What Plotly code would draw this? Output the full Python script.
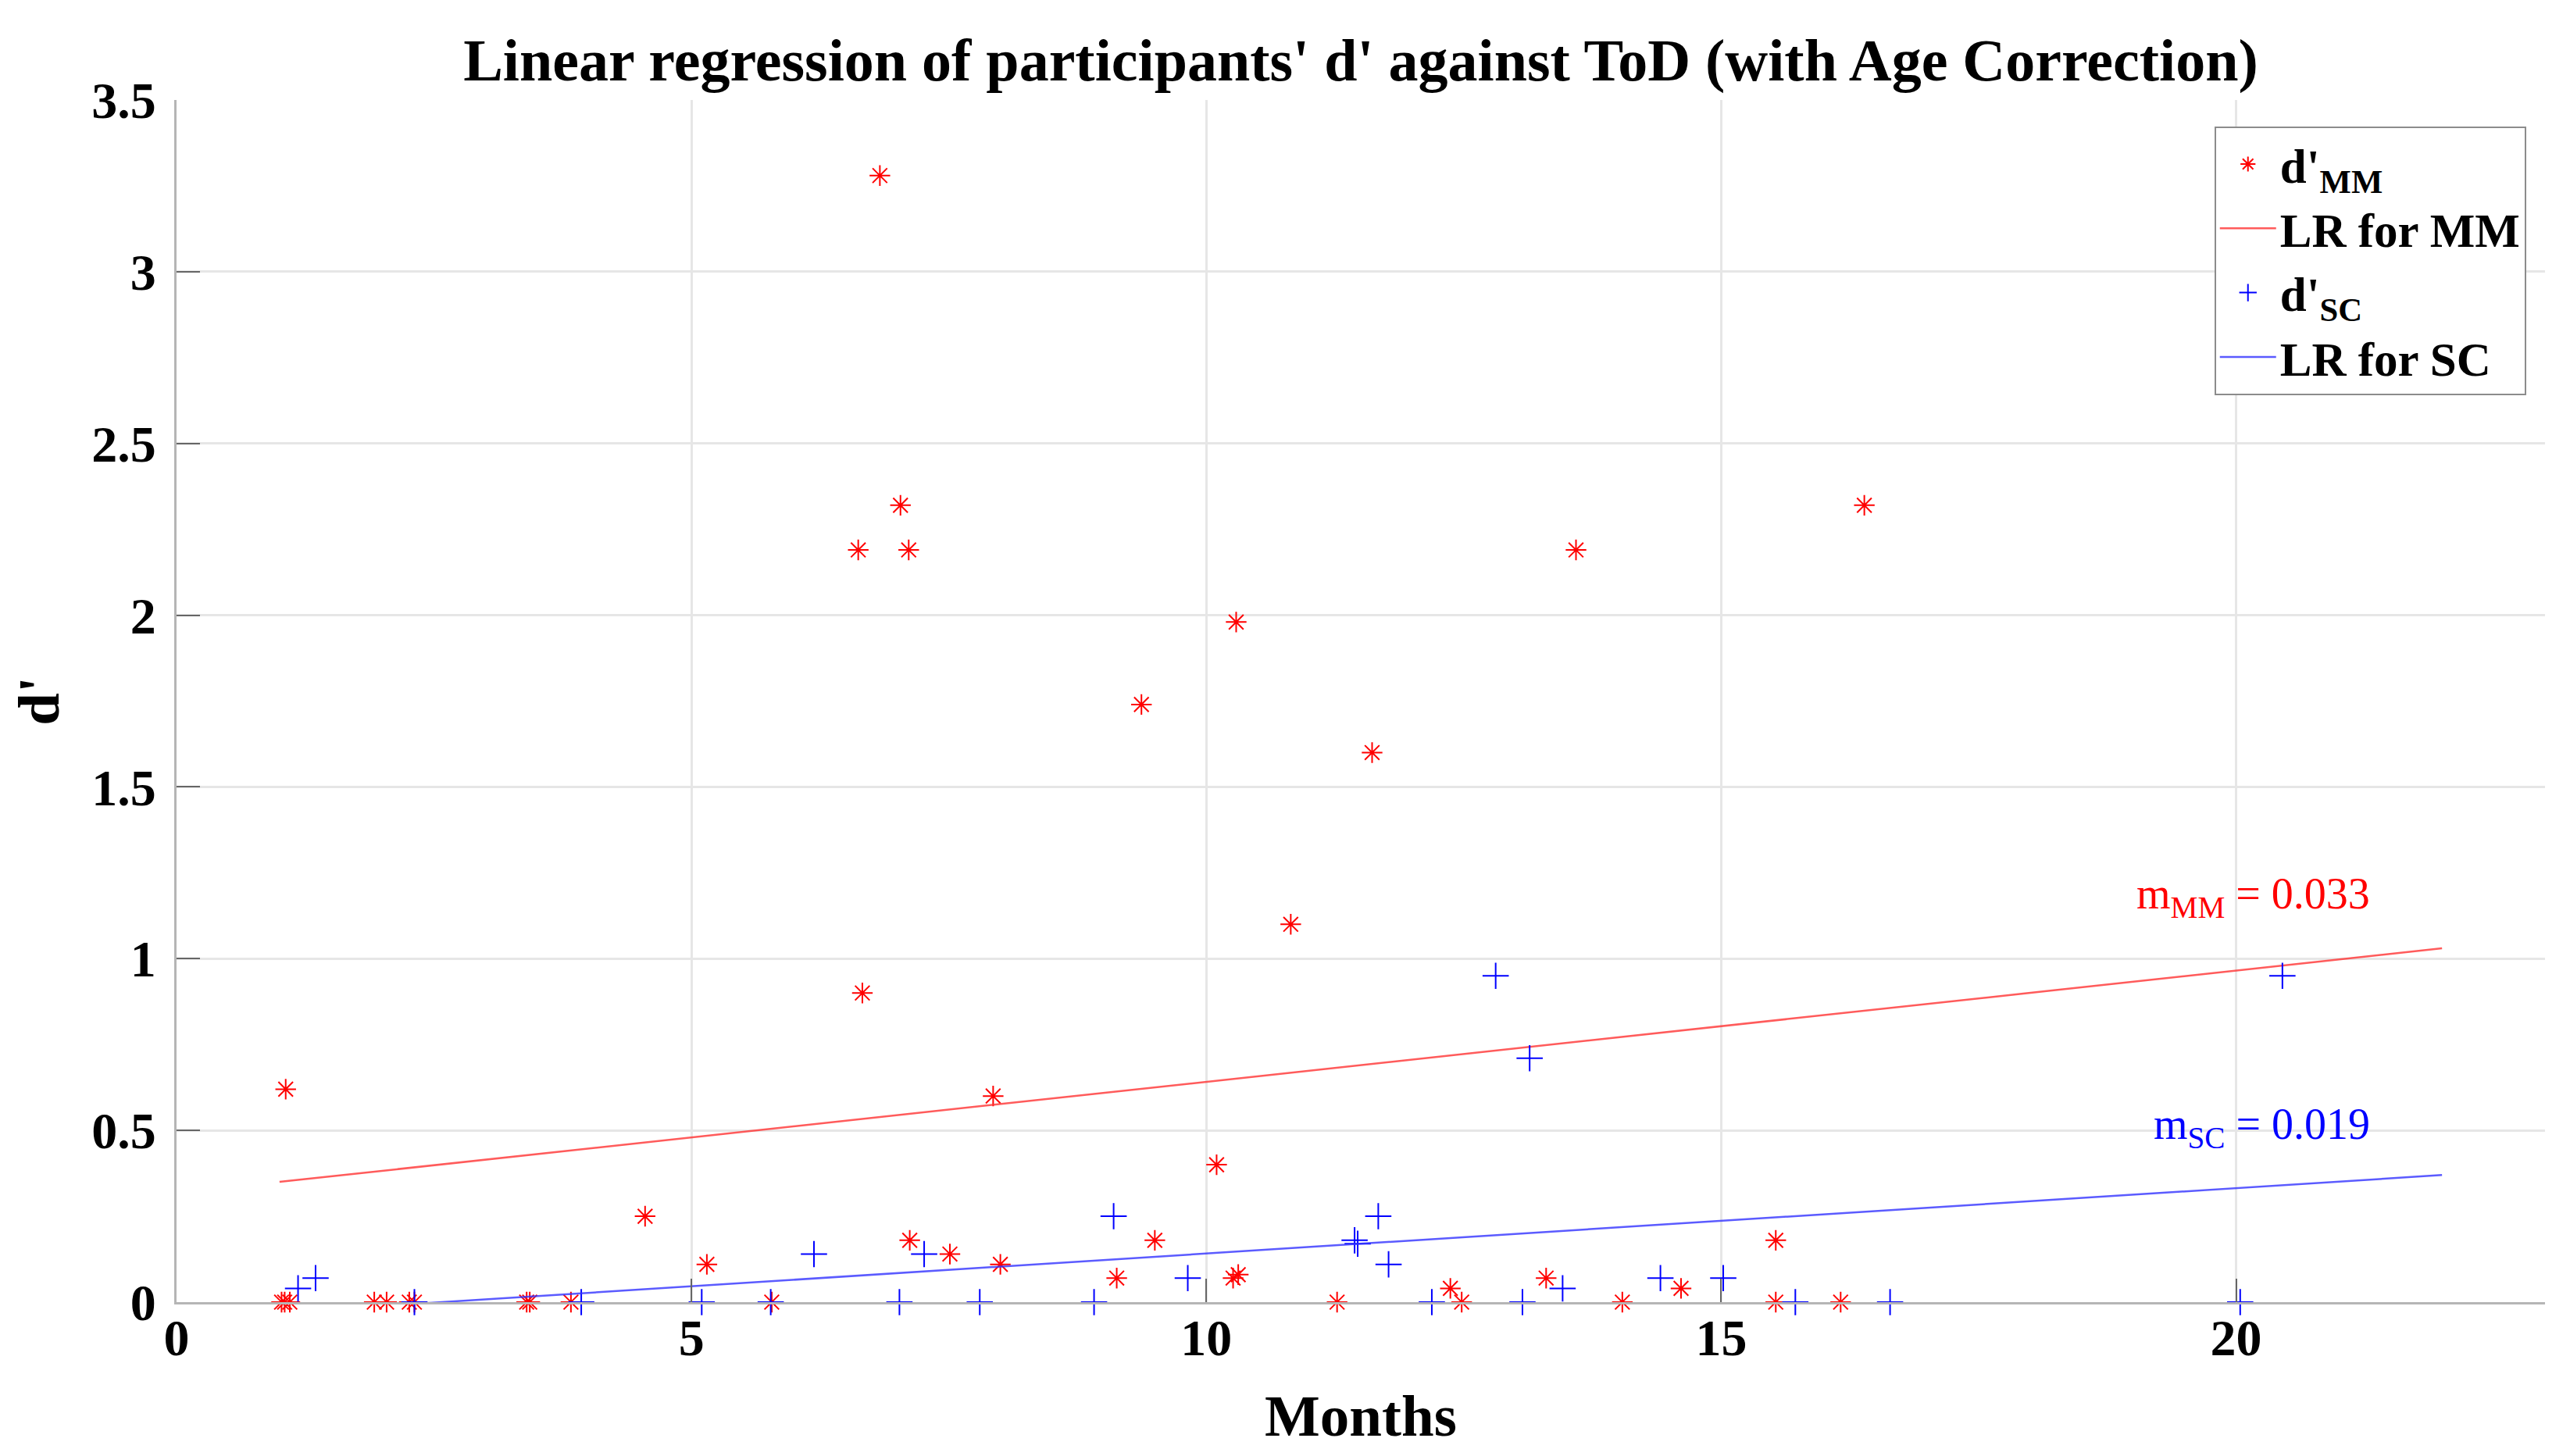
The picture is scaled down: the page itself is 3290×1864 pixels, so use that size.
import plotly.graph_objects as go

# ---- data ----
months_mm = [1.02, 1.05, 1.10, 1.06, 1.92, 2.04, 2.26, 2.31, 3.40, 3.43, 3.83,
             4.55, 5.15, 5.78, 6.62, 6.66, 6.83, 7.03, 7.11, 7.12, 7.51, 7.93,
             8.00, 9.13, 9.37, 9.50, 10.10, 10.26, 10.31, 10.29, 10.82, 11.27,
             11.61, 12.37, 12.48, 13.30, 13.59, 14.04, 14.61, 15.53, 15.53,
             16.16, 16.39]
dprime_mm = [0.0, 0.0, 0.0, 0.62, 0.0, 0.0, 0.0, 0.0, 0.0, 0.0, 0.0,
             0.25, 0.11, 0.0, 2.19, 0.90, 3.28, 2.32, 2.19, 0.18, 0.14, 0.60,
             0.11, 0.07, 1.74, 0.18, 0.40, 0.07, 0.08, 1.98, 1.10, 0.0,
             1.60, 0.04, 0.0, 0.07, 2.19, 0.0, 0.04, 0.18, 0.0,
             0.0, 2.32]

months_sc = [1.18, 1.35, 2.31, 3.93, 5.10, 5.77, 6.19, 7.02, 7.26, 7.80, 8.91,
             9.10, 9.82, 11.44, 11.47, 11.67, 11.77, 12.19, 12.81, 13.07, 13.14,
             13.46, 14.41, 15.02, 15.72, 16.64, 20.04, 20.45]
dprime_sc = [0.04, 0.07, 0.0, 0.0, 0.0, 0.0, 0.14, 0.0, 0.14, 0.0, 0.0,
             0.25, 0.07, 0.18, 0.17, 0.25, 0.11, 0.0, 0.95, 0.0, 0.71,
             0.04, 0.07, 0.07, 0.0, 0.0, 0.0, 0.95]

lr_x = [1.0, 22.0]
lr_mm = [0.35, 1.03]
lr_sc = [-0.03, 0.37]

slope_mm_text = "m<sub>MM</sub> = 0.033"
slope_sc_text = "m<sub>SC</sub> = 0.019"

x_ticks = [0, 5, 10, 15, 20]
y_ticks = [0, 0.5, 1, 1.5, 2, 2.5, 3, 3.5]
y_ticklabels = ["0", "0.5", "1", "1.5", "2", "2.5", "3", "3.5"]

title_text = "Linear regression of participants' d' against ToD (with Age Correction)"
x_title = "Months"
y_title = "d'"

FONT = "Liberation Serif"
RED = "rgb(255,0,0)"
BLUE = "rgb(0,0,255)"

fig = go.Figure()
fig.add_trace(go.Scatter(
    x=months_mm, y=dprime_mm, mode="markers", name="d'<sub>MM</sub>",
    marker=dict(symbol="asterisk-open", size=22, color=RED,
                line=dict(color=RED, width=2)),
    cliponaxis=False))
fig.add_trace(go.Scatter(
    x=lr_x, y=lr_mm, mode="lines", name="LR for MM",
    line=dict(color="rgba(255,50,50,0.8)", width=2.5)))
fig.add_trace(go.Scatter(
    x=months_sc, y=dprime_sc, mode="markers", name="d'<sub>SC</sub>",
    marker=dict(symbol="cross-thin-open", size=24, color=BLUE,
                line=dict(color=BLUE, width=2)),
    cliponaxis=False))
fig.add_trace(go.Scatter(
    x=lr_x, y=lr_sc, mode="lines", name="LR for SC",
    line=dict(color="rgba(50,50,255,0.8)", width=2.5)))

fig.add_annotation(x=20.17, y=1.18, xref="x", yref="y", text=slope_mm_text,
                   showarrow=False, font=dict(family=FONT, size=56, color=RED))
fig.add_annotation(x=20.25, y=0.51, xref="x", yref="y", text=slope_sc_text,
                   showarrow=False, font=dict(family=FONT, size=56, color=BLUE))

fig.update_layout(
    width=3290, height=1864,
    margin=dict(l=218, r=40, t=120, b=205),
    paper_bgcolor="white", plot_bgcolor="white",
    font=dict(family=FONT, size=60, color="black"),
    title=dict(text=title_text, x=0.5, xref="paper", y=1 - 68 / 1864,
               yref="container", xanchor="center", yanchor="middle",
               font=dict(family=FONT, size=76, color="black", weight="bold")),
    showlegend=True,
    legend=dict(x=0.992, y=0.978, xanchor="right", yanchor="top",
                bgcolor="white", bordercolor="#8c8c8c", borderwidth=2,
                font=dict(family=FONT, size=61, color="black", weight="bold"),
                itemwidth=72, tracegroupgap=0),
)

fig.update_xaxes(
    range=[0, 23], tickvals=x_ticks, ticktext=[str(v) for v in x_ticks],
    showgrid=True, gridcolor="#e6e6e6", gridwidth=3,
    zeroline=False, showline=True, linecolor="#b5b5b5", linewidth=3,
    ticks="inside", ticklen=30, tickwidth=2, tickcolor="#666666",
    tickfont=dict(family=FONT, size=66, color="black", weight="bold"),
    ticklabelstandoff=-14,
    title=dict(text=x_title, standoff=38,
               font=dict(family=FONT, size=75, color="black", weight="bold")),
)
fig.update_yaxes(
    range=[0, 3.5], tickvals=y_ticks, ticktext=y_ticklabels,
    showgrid=True, gridcolor="#e6e6e6", gridwidth=3,
    zeroline=False, showline=True, linecolor="#b5b5b5", linewidth=3,
    ticks="inside", ticklen=30, tickwidth=2, tickcolor="#666666",
    tickfont=dict(family=FONT, size=66, color="black", weight="bold"),
    ticklabelstandoff=10,
    title=dict(text=y_title, standoff=18,
               font=dict(family=FONT, size=75, color="black", weight="bold")),
)

fig.write_html("out.html")
